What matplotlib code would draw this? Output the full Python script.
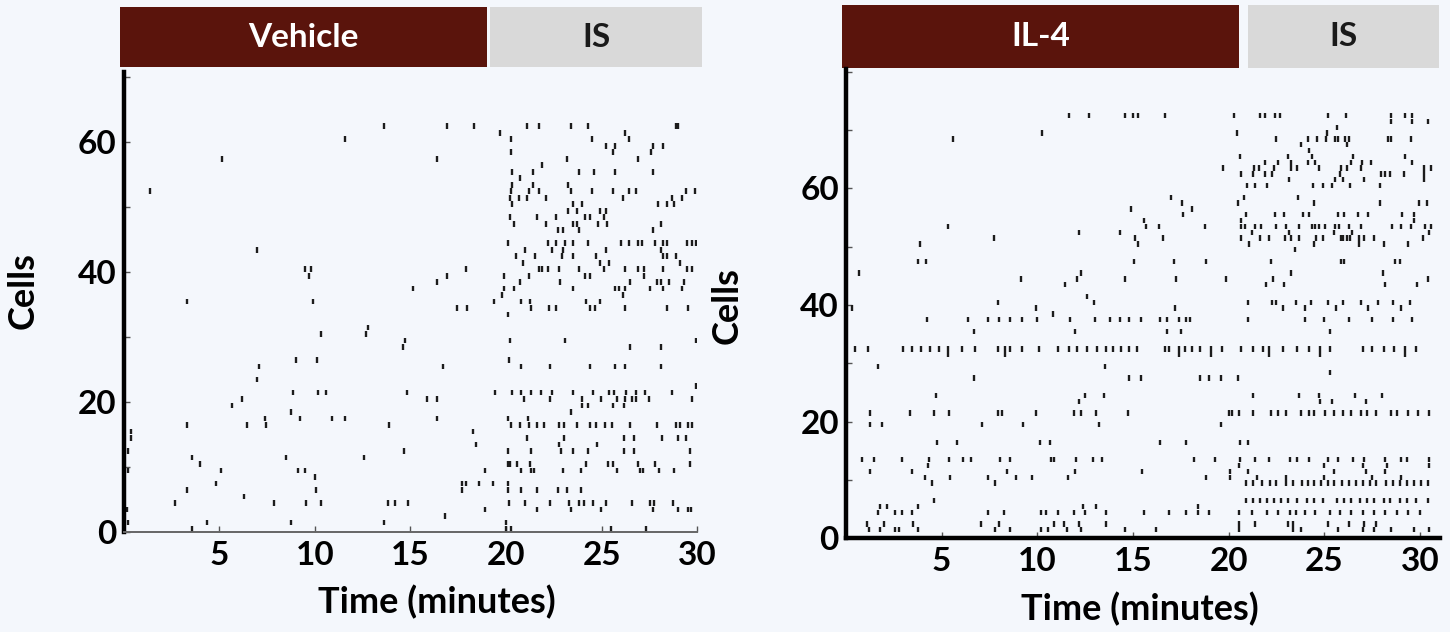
import matplotlib
matplotlib.use('Agg')
import matplotlib.pyplot as plt
import matplotlib.transforms as mtransforms
from matplotlib.patches import Rectangle

plt.rcParams['font.family'] = ['Lato', 'DejaVu Sans']

# ---------------- data: spike times (minutes) per cell row ----------------
vehicle_spikes = [
    [3.6, 19.97, 20.25, 25.5, 27.3],                                   # 0
    [0.25, 4.34, 8.73, 13.6, 20.0],                                    # 1
    [16.8],                                                            # 2
    [0.16, 18.9, 21.6, 23.4, 24.95, 27.7, 29.0, 29.5, 29.65],          # 3
    [2.67, 7.86, 9.53, 10.32, 13.8, 14.2, 14.85, 20.15, 21.0, 22.3, 23.3, 23.8, 24.05,
     24.55, 25.2, 26.6, 27.5, 27.75, 28.7],                            # 4
    [6.3],                                                             # 5
    [3.3, 10.04, 17.7, 20.1, 20.8, 21.6, 22.7, 23.2, 23.9],            # 6
    [4.83, 17.7, 17.9, 18.6, 19.3, 20.1],                              # 7
    [10.0],                                                            # 8
    [0.25, 5.09, 9.12, 9.5, 18.9, 20.8, 21.3, 21.45, 22.97, 23.9, 25.8, 27.0, 27.15,
     27.98, 28.8],                                                     # 9
    [4.0, 20.08, 20.22, 20.55, 21.26, 24.2, 25.3, 25.6, 26.9, 27.8, 29.6],  # 10
    [3.56, 8.49, 12.57],                                               # 11
    [0.25, 14.66, 20.1, 21.3, 22.85, 23.5, 24.26, 26.15, 26.7, 29.6],  # 12
    [18.4, 22.75, 24.75],                                              # 13
    [0.37, 21.1, 23.0, 26.15, 26.7, 28.15, 29.0, 29.4],                # 14
    [0.37, 18.25],                                                     # 15
    [3.33, 6.43, 7.43, 13.9, 20.25, 20.7, 21.2, 21.6, 22.0, 22.76, 23.0, 23.7, 24.4,
     24.7, 25.15, 25.55, 26.5, 27.9, 28.9, 29.1, 29.5, 29.7],          # 16
    [7.4, 9.2, 10.9, 11.6, 16.4, 20.1, 21.15],                         # 17
    [8.73, 23.4],                                                      # 18
    [5.65, 23.95, 24.3, 25.6, 26.15],                                  # 19
    [6.2, 15.86, 16.37, 20.95, 22.3, 23.95, 24.95, 25.8, 26.2, 26.6, 26.8, 27.45, 29.7],  # 20
    [8.87, 10.15, 10.56, 14.8, 19.4, 20.3, 20.8, 21.3, 21.8, 22.4, 23.5, 24.55, 25.4,
     25.65, 26.25, 26.8, 27.25, 28.65],                                # 21
    [29.9],                                                            # 22
    [6.96],                                                            # 23
    [],                                                                # 24
    [7.1, 16.7, 20.8, 22.3, 24.4, 25.7, 26.2, 28.1],                   # 25
    [9.0, 10.1, 20.15],                                                # 26
    [],                                                                # 27
    [14.6, 26.5, 28.1],                                                # 28
    [14.7, 20.2, 23.1, 29.9],                                          # 29
    [10.3, 12.65],                                                     # 30
    [12.8],                                                            # 31
    [],                                                                # 32
    [20.1],                                                            # 33
    [17.45, 17.95, 21.3, 22.25, 22.6, 24.4, 24.65, 26.2, 28.4, 29.5],  # 34
    [3.3, 9.9, 19.35, 20.8, 21.25, 24.2, 24.9],                        # 35
    [19.8, 26.1],                                                      # 36
    [15.15, 19.9, 20.4, 23.5, 25.7, 25.9, 26.2, 27.5, 28.2, 29.2],     # 37
    [16.4, 20.7, 22.8, 26.45, 27.9, 28.1, 28.5, 29.3],                 # 38
    [9.7, 16.9, 19.9, 21.2, 24.1, 24.4, 27.2],                         # 39
    [9.5, 9.78, 17.9, 21.7, 21.9, 22.2, 22.75, 23.8, 25.1, 26.2, 26.9, 27.2, 28.2,
     29.45, 29.7],                                                     # 40
    [20.9, 24.9, 25.4, 29.1],                                          # 41
    [20.5, 21.5, 22.9, 23.5, 24.7, 28.2, 28.4, 28.9],                  # 42
    [7.0, 21.0, 22.4, 22.97, 25.2, 28.1],                              # 43
    [20.1, 22.2, 22.6, 23.1, 23.5, 24.3, 26.0, 26.4, 26.9, 27.1, 27.76, 28.2, 28.4,
     29.47, 29.7, 29.9],                                               # 44
    [],                                                                # 45
    [22.7, 22.97, 23.8, 27.7],                                         # 46
    [20.4, 22.1, 23.5, 23.7, 24.8, 25.25, 28.1],                       # 47
    [20.2, 21.6, 22.6, 24.1, 24.4, 25.1],                              # 48
    [23.25, 23.7, 24.9, 25.2],                                         # 49
    [20.3, 23.5, 23.95, 27.95, 28.4, 28.75],                           # 50
    [20.2, 20.65, 21.1, 22.1, 26.1, 28.65, 29.2],                      # 51
    [1.38, 20.25, 21.2, 21.7, 23.4, 24.5, 25.6, 26.4, 26.8, 29.4, 29.85],  # 52
    [20.3, 21.4, 23.25],                                               # 53
    [20.7],                                                            # 54
    [20.3, 21.4, 23.8, 24.6, 25.7, 27.7],                              # 55
    [21.9],                                                            # 56
    [5.13, 16.4, 23.2, 26.9],                                          # 57
    [20.25, 25.6, 27.55],                                              # 58
    [25.2, 25.7, 27.7, 28.2],                                          # 59
    [11.6, 20.25, 24.5, 26.4],                                         # 60
    [19.7, 26.2],                                                      # 61
    [13.6, 16.89, 18.3, 21.1, 21.7, 23.4, 24.3, 28.86, 29.0],          # 62
]

il4_spikes = [
    [],                                                                # 0
    [1.2, 1.8, 2.54, 2.78, 3.76, 7.77, 8.6, 10.2, 10.57, 11.55, 12.3, 14.6, 16.2, 20.55,
     23.35, 23.8, 25.7, 27.0, 27.6, 28.5, 29.7, 30.5],                 # 1
    [1.08, 1.98, 3.5, 7.04, 8.0, 10.89, 11.4, 12.16, 13.6, 20.55, 21.4, 23.1, 23.35,
     25.2, 26.3, 27.1, 27.7],                                          # 2
    [],                                                                # 3
    [1.69, 2.54, 2.95, 3.44, 7.4, 8.26, 10.2, 10.45, 11.1, 11.9, 12.5, 13.6, 15.56, 16.9,
     17.75, 18.4, 19.0, 20.55, 21.2, 22.0, 22.6, 23.2, 23.5, 24.0, 24.5, 25.3, 25.8,
     26.4, 27.0, 27.6, 28.2, 28.8, 29.4, 30.0],                        # 4
    [1.8, 2.17, 3.76, 12.4, 13.08, 18.4],                              # 5
    [4.6, 20.92, 21.28, 21.65, 22.01, 22.38, 22.74, 23.11, 23.6, 24.08, 24.45, 24.93,
     25.66, 26.03, 26.39, 26.88, 27.25, 27.61, 28.1, 28.46, 28.95, 29.32, 29.8, 30.41],  # 6
    [],                                                                # 7
    [],                                                                # 8
    [4.5, 7.8, 20.92, 21.28, 21.77, 22.14, 22.5, 22.99, 23.35, 23.84, 24.13, 24.45,
     24.81, 25.18, 25.49, 25.91, 26.27, 26.64, 27.0, 27.37, 27.73, 28.22, 28.58, 28.95,
     29.32, 29.68, 30.04, 30.41],                                      # 9
    [4.12, 5.46, 7.4, 8.87, 9.72, 11.62, 18.8, 20.07, 21.5, 23.0, 25.0, 27.5, 29.0],  # 10
    [1.25, 3.44, 8.43, 11.96, 15.5, 20.07, 21.0, 25.5, 27.2, 28.2],    # 11
    [4.3, 20.55, 25.0, 27.0, 28.3, 30.5],                              # 12
    [0.84, 1.45, 2.95, 4.32, 5.4, 6.1, 6.56, 8.07, 8.55, 10.7, 10.9, 12.0, 12.9, 13.4,
     18.2, 19.3, 20.6, 21.4, 22.1, 23.2, 23.6, 24.2, 25.2, 25.7, 26.5, 27.1, 28.2,
     29.0, 29.3, 30.5],                                                # 13
    [],                                                                # 14
    [],                                                                # 15
    [4.78, 5.78, 10.16, 10.65, 16.4, 17.75, 20.6, 21.04],              # 16
    [],                                                                # 17
    [],                                                                # 18
    [1.25, 1.88, 7.1, 9.28, 13.25, 19.6],                              # 19
    [],                                                                # 20
    [1.25, 3.34, 4.6, 5.4, 7.97, 8.16, 9.96, 11.9, 12.27, 13.08, 14.76, 20.0, 20.2,
     20.55, 21.3, 22.2, 22.6, 23.0, 23.8, 24.2, 24.45, 25.05, 25.5, 26.0, 26.4, 26.9,
     27.25, 27.7, 28.5, 28.8, 29.4, 29.9, 30.5],                       # 21
    [],                                                                # 22
    [12.2, 24.8, 25.4, 27.2],                                          # 23
    [4.7, 12.47, 13.5, 21.3, 23.7, 24.7, 26.6, 28.0],                  # 24
    [],                                                                # 25
    [],                                                                # 26
    [6.7, 14.8, 15.4, 18.5, 19.0, 19.6, 20.5],                         # 27
    [25.3],                                                            # 28
    [1.69, 13.56],                                                     # 29
    [],                                                                # 30
    [5.34, 8.3, 17.4, 19.1, 22.1, 24.8, 29.2],                         # 31
    [0.47, 1.15, 2.98, 3.44, 3.93, 4.4, 4.85, 5.34, 6.07, 6.75, 7.97, 8.3, 8.6, 9.2,
     10.07, 11.1, 11.67, 12.1, 12.6, 13.1, 13.6, 13.98, 14.4, 14.8, 15.2, 16.66, 16.9,
     17.4, 17.7, 18.1, 18.5, 19.1, 19.65, 20.67, 21.3, 21.8, 22.1, 22.86, 23.6, 24.2,
     24.8, 25.3, 27.0, 27.5, 28.1, 28.66, 29.2, 29.8],                 # 32
    [],                                                                # 33
    [],                                                                # 34
    [6.7, 11.96, 16.8, 17.5, 25.3],                                    # 35
    [],                                                                # 36
    [4.25, 6.4, 7.4, 8.0, 8.6, 9.2, 10.0, 11.7, 13.0, 13.8, 14.35, 14.8, 15.4, 16.4,
     16.8, 17.4, 17.75, 18.0, 21.04, 24.0, 25.0, 26.3, 27.5, 28.6, 29.6],  # 37
    [10.8],                                                            # 38
    [0.3, 9.96, 17.2, 22.86, 24.0, 25.6, 27.3, 29.0],                  # 39
    [7.97, 12.96, 21.04, 22.25, 22.5, 23.5, 24.3, 25.2, 26.0, 26.9, 27.8, 28.6, 29.5],  # 40
    [12.6],                                                            # 41
    [],                                                                # 42
    [11.43, 21.94, 22.9, 28.2, 29.85],                                 # 43
    [9.16, 12.1, 14.6, 17.25, 19.88, 22.34, 30.4],                     # 44
    [0.68, 12.3, 23.24, 28.07],                                        # 45
    [],                                                                # 46
    [3.78, 4.18, 15.07, 17.15, 18.82, 22.23, 25.9, 26.04, 28.7, 28.97],  # 47
    [],                                                                # 48
    [23.45],                                                           # 49
    [3.87, 15.25, 21.07, 24.45, 26.84, 28.1, 29.4],                    # 50
    [7.76, 15.12, 16.55, 20.63, 21.64, 22.1, 22.95, 23.26, 23.7, 24.58, 24.93, 25.9,
     26.0, 26.2, 26.37, 26.84, 27.07, 27.6, 30.15],                    # 51
    [12.2, 14.34, 21.2, 23.14, 25.5, 26.43, 30.46],                    # 52
    [5.35, 15.7, 16.38, 18.78, 20.65, 20.87, 21.4, 21.7, 22.5, 22.98, 23.7, 24.36,
     24.54, 24.71, 25.06, 25.55, 25.76, 26.28, 26.94, 28.54, 29.03, 29.52, 30.28, 30.6],  # 53
    [15.58, 20.65, 29.7],                                              # 54
    [17.6, 20.9, 22.44, 22.9, 23.87, 24.2, 25.74, 26.03, 26.78, 27.27, 29.06, 29.7],  # 55
    [14.9, 18.1],                                                      # 56
    [17.58, 20.47, 24.48, 27.9, 29.94, 30.37],                         # 57
    [16.99, 20.82, 23.63],                                             # 58
    [],                                                                # 59
    [20.98, 21.4, 22.0, 24.41, 24.93, 25.38, 26.35, 27.9],             # 60
    [23.14, 25.57, 26.0, 27.06, 30.2],                                 # 61
    [20.63, 21.26, 21.92, 22.28, 25.8, 27.98, 28.2, 28.45, 29.18, 30.2],  # 62
    [19.7, 21.33, 21.6, 22.36, 23.26, 23.56, 24.74, 25.9, 26.2, 26.92, 30.2, 30.6],  # 63
    [21.92, 22.56, 23.26, 24.15, 24.5, 26.4, 26.95, 27.43, 29.6],      # 64
    [20.6, 23.1, 24.35, 26.5, 29.2],                                   # 65
    [24.18],                                                           # 66
    [23.8, 26.2],                                                      # 67
    [5.6, 22.48, 24.13, 24.63, 25.09, 25.54, 25.72, 26.1, 26.27, 28.35, 28.5, 29.55],  # 68
    [10.25, 20.42, 25.15],                                             # 69
    [25.67],                                                           # 70
    [28.47, 29.6, 30.4],                                               # 71
    [11.67, 12.72, 14.57, 14.99, 15.25, 16.7, 20.27, 21.66, 21.92, 22.44, 22.67, 25.2,
     26.15, 28.47, 29.2, 29.6],                                        # 72
]

vehicle_periods = [("Vehicle", -0.19, 19.0), ("IS", 19.15, 30.25)]
il4_periods = [("IL-4", -0.21, 20.54), ("IS", 21.0, 31.0)]
period_colors = {"Vehicle": "#5A140C", "IL-4": "#5A140C", "IS": "#D9D9D9"}
period_text_colors = {"Vehicle": "white", "IL-4": "white", "IS": "#1a1a1a"}

x_ticks = [5, 10, 15, 20, 25, 30]
y_ticks_left = [0, 10, 20, 30, 40, 50, 60, 70]
y_ticks_right = [0, 10, 20, 30, 40, 50, 60, 70, 80]
y_labeled = [0, 20, 40, 60]

# ---------------- figure ----------------
BG = "#F4F7FC"
fig = plt.figure(figsize=(14.5, 6.32), dpi=100, facecolor=BG)
ax1 = fig.add_axes([0.0852, 0.1578, 0.3958, 0.728])
ax2 = fig.add_axes([0.5834, 0.148, 0.4097, 0.743])


def draw_panel(ax, spikes, ylim_top, xlim_right, yticks, bottom_lw, bottom_color,
               periods, band_y0, band_y1, ylabel_xy, xlabel_xy):
    ax.set_facecolor(BG)
    rows = [times for times in spikes if len(times)]
    offs = [k + 0.5 for k, times in enumerate(spikes) if len(times)]
    ax.eventplot(rows, lineoffsets=offs, linelengths=0.9, linewidths=1.7,
                 colors="#1c1c1c")
    ax.set_xlim(0, xlim_right)
    ax.set_ylim(0, ylim_top)
    for s in ("top", "right"):
        ax.spines[s].set_visible(False)
    ax.spines["left"].set_linewidth(3.2)
    ax.spines["left"].set_color("black")
    ax.spines["bottom"].set_linewidth(bottom_lw)
    ax.spines["bottom"].set_color(bottom_color)
    ax.set_xticks(x_ticks)
    ax.set_xticklabels([str(v) for v in x_ticks])
    ax.set_yticks(yticks)
    ax.set_yticklabels([str(v) if v in y_labeled else "" for v in yticks])
    ax.tick_params(axis="both", direction="in", length=4, width=1, color="#555555",
                   labelsize=24)
    ax.tick_params(axis="x", pad=6)
    ax.tick_params(axis="y", pad=5)
    for lab in ax.get_xticklabels() + ax.get_yticklabels():
        lab.set_fontweight("bold")
    ax.set_ylabel("Cells", fontsize=26, fontweight="bold")
    ax.yaxis.set_label_coords(*ylabel_xy)
    ax.set_xlabel("Time (minutes)", fontsize=26, fontweight="bold")
    ax.xaxis.set_label_coords(*xlabel_xy)

    trans = mtransforms.blended_transform_factory(ax.transData, ax.transAxes)
    for name, t0, t1 in periods:
        ax.add_patch(Rectangle((t0, band_y0), t1 - t0, band_y1 - band_y0,
                               transform=trans, clip_on=False,
                               facecolor=period_colors[name], edgecolor="none"))
        ax.text((t0 + t1) / 2, (band_y0 + band_y1) / 2, name, transform=trans,
                ha="center", va="center", fontsize=24, fontweight="bold",
                color=period_text_colors[name], clip_on=False)


draw_panel(ax1, vehicle_spikes, 70.8, 30.0, y_ticks_left, 1.4, "#666666",
           vehicle_periods, 1.011, 1.141, (-0.146, 0.526), (0.546, -0.115))
draw_panel(ax2, il4_spikes, 80.5, 31.05, y_ticks_right, 3.2, "black",
           il4_periods, 1.001, 1.136, (-0.173, 0.495), (0.495, -0.114))

fig.savefig("out.png", dpi=100, facecolor=BG)
